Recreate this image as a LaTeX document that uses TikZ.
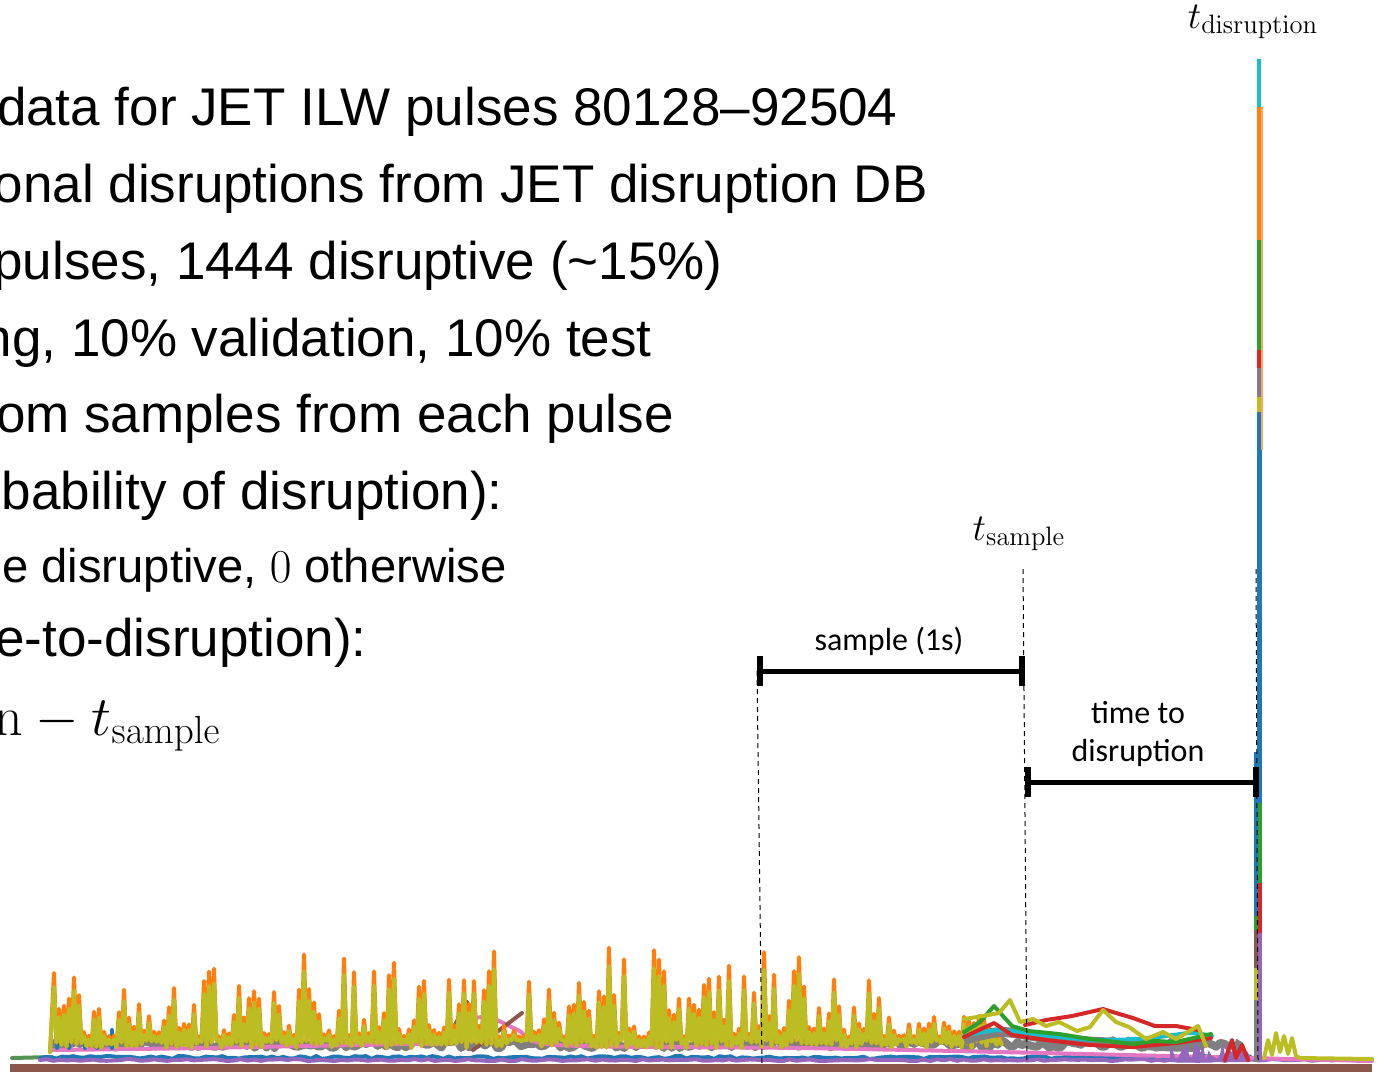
\documentclass[tikz,border=0pt]{standalone}
\usepackage{fix-cm}
\usepackage[no-math]{fontspec}
\setmainfont{Liberation Sans}
\newfontfamily\calfont{Carlito}
\usetikzlibrary{arrows.meta}

\definecolor{tblue}{HTML}{1F77B4}
\definecolor{torange}{HTML}{FF7F0E}
\definecolor{tgreen}{HTML}{2CA02C}
\definecolor{tred}{HTML}{D62728}
\definecolor{tpurple}{HTML}{9467BD}
\definecolor{tbrown}{HTML}{8C564B}
\definecolor{tpink}{HTML}{E377C2}
\definecolor{tgray}{HTML}{7F7F7F}
\definecolor{tolive}{HTML}{BCBD22}
\definecolor{tcyan}{HTML}{17BECF}

\tikzset{
  bullet/.style={anchor=base east, inner sep=0pt, font=\fontsize{26.5}{30}\selectfont},
  subbullet/.style={bullet, font=\fontsize{23.6}{28}\selectfont},
  mathlbl/.style={anchor=base, inner sep=0pt, font=\fontsize{19}{22}\selectfont},
  callbl/.style={inner sep=0pt, font=\calfont\fontsize{16}{19}\selectfont, align=center},
  span/.style={line width=2.5pt, {Bar[width=15pt,line width=3pt]}-{Bar[width=15pt,line width=3pt]}},
  guide/.style={line width=0.5pt, dash pattern=on 2.5pt off 2pt},
  sig/.style={line width=2pt, line join=round, line cap=round},
}

\begin{document}
\begin{tikzpicture}[x=0.5pt, y=-0.5pt]
    \useasboundingbox (0,0) rectangle (1379,1072);
    \clip (0,0) rectangle (1379,1072);

    % text, cut off at the left edge
    \node[bullet] (l1) at (898,125) {data for JET ILW pulses 80128--92504};
    \node[bullet] (l2) at (928,202) {onal disruptions from JET disruption DB};
    \node[bullet] (l3) at (723,279) {pulses, 1444 disruptive (\textasciitilde15\%)};
    \node[bullet] (l4) at (652,356) {ng, 10\% validation, 10\% test};
    \node[bullet] (l5) at (674,432) {om samples from each pulse};
    \node[bullet] (l6) at (503,509) {bability of disruption):};
    \node[subbullet] (l7) at (507,582) {e disruptive, $0$ otherwise};
    \node[bullet] (l8) at (367,656) {e-to-disruption):};
    \node[bullet, font=\fontsize{28}{30}\selectfont] (l9) at (221,735) {$\mathrm{n} - t_{\mathrm{sample}}$};

    % signals
    \fill[tbrown] (10,1064) rectangle (1372,1072);
    \draw[tgreen!50!tgray, sig] (12,1058) -- (52,1057);
    \pgfmathsetseed{3}
    \draw[tblue, sig] plot[domain=40:1250, samples=220] (\x,{1059-3*rnd});
    \draw[tpurple, sig] plot[domain=40:1372, samples=200] (\x,{1061-2*rnd});
    \draw[tgray, line width=4pt, line join=round] plot[domain=52:1240, samples=300] (\x,{1048-8*rnd});
    \draw[tpink, sig] plot[smooth] coordinates {(52,1050) (200,1048) (400,1044) (446,1042) (469,1020) (491,1018) (518,1030) (558,1045) (800,1048) (1000,1052) (1372,1061)};
    \draw[tbrown, sig] (446,1042) -- (467,1002);
    \draw[tbrown, sig] (473,1050) -- (522,1013);

    % first spikes with blue tips
    \draw[tblue, sig] (57,1048) -- (57,1028) (69,1048) -- (69,1028) (85,1048) -- (85,1036) (97,1048) -- (97,1036) (112,1048) -- (112,1030);
    \pgfmathsetseed{11}
    \draw[torange, sig] (50,1052) \foreach \x in {54,59,...,1000} { -- (\x,{1040-1.2*(3+(58+16*(\x>300)-56*(\x>880))*rnd^1.7)}) -- (\x+2.5,{1048-8*rnd}) };
    \pgfmathsetseed{11}
    \draw[tolive, sig] (50,1052) \foreach \x in {54,59,...,1000} { -- (\x,{1043-(3+(58+16*(\x>300)-56*(\x>880))*rnd^1.7)}) -- (\x+2.5,{1048-8*rnd}) };

    \draw[tgray, line width=5pt] plot[smooth] coordinates {(964,1040) (1000,1032) (1040,1037) (1080,1041) (1120,1043) (1160,1046) (1200,1047)};
    \draw[tcyan, sig] plot[smooth] coordinates {(964,1036) (1000,1030) (1050,1036) (1100,1040) (1150,1038) (1190,1033) (1212,1036)};
    \draw[tred, sig] plot coordinates {(964,1037) (994,1023) (1012,1035) (1046,1040) (1090,1045) (1133,1047) (1176,1043) (1211,1038)};
    \draw[tgreen, sig] plot coordinates {(964,1032) (980,1022) (994,1006) (1012,1026) (1029,1031) (1059,1034) (1090,1039) (1133,1044) (1155,1041) (1176,1042) (1211,1034)};
    \draw[tred, sig] plot coordinates {(1025,1025) (1046,1020) (1072,1016) (1103,1009) (1116,1013) (1133,1018) (1155,1026) (1176,1026) (1198,1030)};
    \draw[tolive, sig] plot coordinates {(964,1019) (977,1017) (999,1013) (1010,1000) (1020,1022) (1033,1019) (1046,1026) (1059,1022) (1077,1031) (1090,1027) (1103,1010) (1116,1022) (1129,1027) (1146,1039) (1163,1032) (1176,1039) (1198,1026) (1206,1046)};
    \fill[tpurple] (1170,1062) -- plot[domain=1170:1250, samples=30] (\x,{1060-18*rnd}) -- (1250,1062) -- cycle;
    \draw[tred, sig] (1225,1060) -- (1232,1040) -- (1236,1058) -- (1242,1045) -- (1248,1060);
    \draw[tolive, sig] (1264,1058) -- (1268,1040) -- (1272,1055) -- (1276,1033) -- (1280,1052) -- (1284,1036) -- (1288,1054) -- (1292,1038) -- (1296,1056) -- (1300,1058) -- (1372,1059);

    % the spike at the disruption
    \fill[tcyan] (1257,59) rectangle (1261,107);
    \fill[torange] (1257,107) rectangle (1262,240);
    \fill[tgreen] (1257,240) rectangle (1262,350);
    \fill[tred] (1257,350) rectangle (1262,368);
    \fill[tgray!70!tpurple] (1257,368) rectangle (1262,397);
    \fill[tolive] (1257,397) rectangle (1262,412);
    \fill[tblue] (1257,412) rectangle (1262,803);
    \fill[tgreen] (1258,803) rectangle (1262,883);
    \fill[tred] (1258,883) rectangle (1262,933);
    \fill[tpurple] (1257,933) rectangle (1262,1062);
    \fill[tblue] (1254,752) rectangle (1258,916);
    \fill[tgreen] (1254,916) rectangle (1258,930);
    \fill[tbrown] (1254,930) rectangle (1258,968);
    \fill[tolive] (1254,968) rectangle (1258,1000);
    \fill[tgray] (1254,1000) rectangle (1258,1062);
    \fill[torange!70] (1261,107) rectangle (1262.5,450);

    % times and spans
    \coordinate (wstart) at (757,671);
    \coordinate (tsample) at (1025,671);
    \coordinate (ttdstart) at (1025,782);
    \coordinate (tdisr) at (1259,782);
    \coordinate (wstartfoot) at (762,1064);
    \coordinate (tsampletop) at (1023,569);
    \coordinate (tsamplefoot) at (1027,1064);
    \coordinate (tdisrtop) at (1256,569);
    \coordinate (tdisrfoot) at (1258,1064);

    \draw[guide] (wstart) -- (wstartfoot);
    \draw[guide] (tsampletop) -- (tsamplefoot);
    \draw[guide] (tdisrtop) -- (tdisrfoot);
    \draw[span] (wstart) -- (tsample);
    \draw[span] (ttdstart) -- (tdisr);

    \node[mathlbl] (tdisrlbl) at (1253,28) {$t_{\mathrm{disruption}}$};
    \node[mathlbl] (tsamplbl) at (1019,540) {$t_{\mathrm{sample}}$};
    \node[callbl, anchor=base] (winlbl) at (889,650) {sample (1s)};
    \node[callbl] (ttdlbl) at (1138,734) {time to\\disruption};
\end{tikzpicture}
\end{document}
